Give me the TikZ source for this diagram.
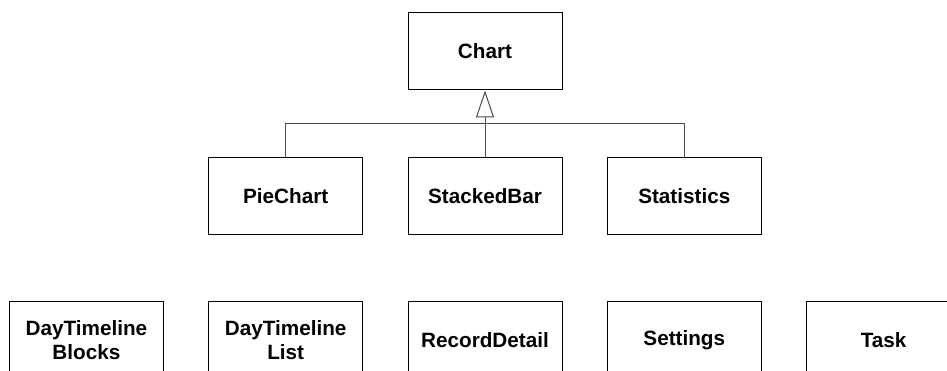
\documentclass[tikz,border=0pt]{standalone}
\usepackage{fontspec}
\setmainfont{Liberation Sans}
\usepackage{tikz}
\usetikzlibrary{arrows.meta,positioning}

\begin{document}
\begin{tikzpicture}[x=1pt,y=1pt,node distance=199.3pt,on grid,
        class/.style={draw,line width=1pt,minimum width=154pt,minimum height=77pt,
            inner sep=0pt,align=center,font=\fontsize{20.7}{24}\selectfont\bfseries},
        link/.style={draw=black!70,line width=1pt},
        inherit/.style={link,-{Triangle[open,length=27pt,width=18pt,line width=1pt]}}]
            \clip (0,0) rectangle (947,371);
            \node[class] (chart) at (485,319.5) {Chart};
            \node[class] (bar) [below=144.2pt of chart] {StackedBar};
            \node[class] (pie) [left=of bar] {PieChart};
            \node[class] (stats) [right=of bar] {Statistics};
            \coordinate[below=33.3pt of chart.south] (fork);
            % second row, not connected
            \node[class] (record) [below=144.8pt of bar] {RecordDetail};
            \node[class] (tl_list) [left=of record] {DayTimeline\\List};
            \node[class] (tl_blocks) [left=of tl_list] {DayTimeline\\Blocks};
            \node[class] (settings) [right=of record] {Settings};
            \node[class] (task) [right=of settings] {Task};
            \draw[inherit] (bar) -- (chart);
            \draw[link] (pie) |- (fork) -| (stats);
        \end{tikzpicture}
\end{document}
